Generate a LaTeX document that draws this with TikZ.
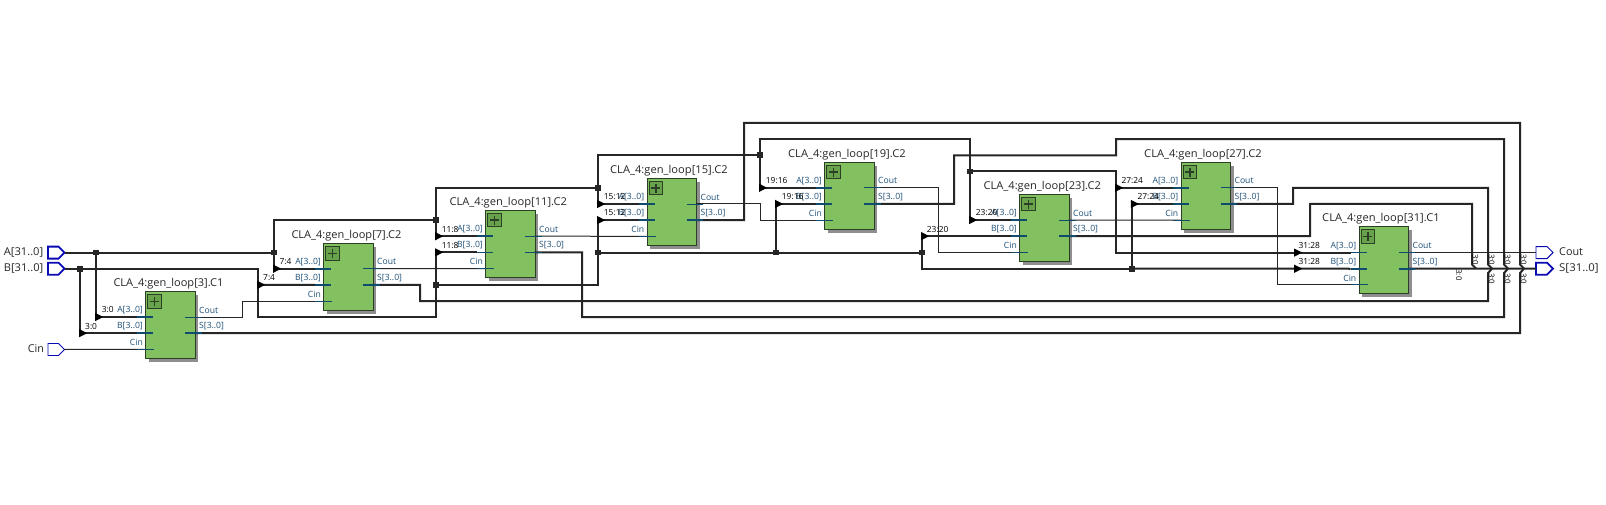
\documentclass[tikz,border=0pt]{standalone}
\usepackage{fontspec}
\setmainfont{Open Sans}
\definecolor{blockgreen}{HTML}{82C060}
\definecolor{plusgreen}{HTML}{68A24A}
\definecolor{blockedge}{HTML}{2A3F26}
\definecolor{shadowgrey}{HTML}{8E8E8E}
\definecolor{wirecol}{HTML}{262626}
\definecolor{stubcol}{HTML}{0F4C6E}
\definecolor{pinblue}{HTML}{0A0AB4}
\definecolor{pintext}{HTML}{1E5078}
\tikzset{
  bus/.style={draw=wirecol,line width=2pt,line join=miter},
  net/.style={draw=wirecol,line width=1pt},
  title/.style={font=\fontsize{10.8}{12}\selectfont,text=black!85,anchor=west,inner sep=0pt},
  pinlab/.style={font=\fontsize{8.6}{10}\selectfont,text=pintext,inner sep=0pt},
  slice/.style={font=\fontsize{8.4}{10}\selectfont,text=black,inner sep=0pt,anchor=west},
  vslice/.style={font=\fontsize{7.8}{9}\selectfont,text=black,inner sep=0pt,rotate=-90},
  toplab/.style={font=\fontsize{10.8}{12}\selectfont,text=black!85,inner sep=0pt},
  dotj/.style={fill=wirecol,draw=none,minimum size=5.6pt,inner sep=0pt,rectangle},
  tip/.style={fill=black,draw=none},
  pinthick/.style={draw=pinblue,line width=1.8pt,fill=white},
  pinthin/.style={draw=pinblue,line width=0.9pt,fill=white},
}
% name, left x, top y, A-row y, title, title offset, title width
\newcommand{\blk}[7]{%
  \fill[shadowgrey] (#2+3.7,#3+3.5) rectangle (#2+53,#3+70.7);
  \node[draw=blockedge,fill=blockgreen,line width=0.9pt,minimum width=49.3pt,minimum height=67pt,inner sep=0pt,anchor=north west] (#1) at (#2,#3) {};
  \node[draw=blockedge,fill=plusgreen,line width=0.8pt,minimum size=13.2pt,inner sep=0pt,anchor=north west] (#1plus) at (#2+2,#3+3) {};
  \draw[blockedge,line width=1.6pt] (#1plus.center) ++(-4.7,0) -- ++(9.4,0) (#1plus.center) ++(0,-4.7) -- ++(0,9.4);
  \coordinate (#1A) at (#2,#4);
  \coordinate (#1B) at (#2,#4+16.15);
  \coordinate (#1C) at (#2,#4+32.3);
  \coordinate (#1O) at (#2+49.3,#4);
  \coordinate (#1S) at (#2+49.3,#4+16.15);
  \node[title] (#1title) at (#2+#6,#3-7.6) {\resizebox{#7pt}{\height}{#5}};
  \node[pinlab,anchor=east] (#1la) at (#2-2.3,#4-7) {A[3..0]};
  \node[pinlab,anchor=east] (#1lb) at (#2-2.3,#4+9) {B[3..0]};
  \node[pinlab,anchor=east] (#1lc) at (#2-2.3,#4+25.5) {Cin};
  \node[pinlab,anchor=west] (#1lo) at (#2+53.7,#4-7) {Cout};
  \node[pinlab,anchor=west] (#1ls) at (#2+53.7,#4+9) {S[3..0]};
}
\newcommand{\stubs}[1]{%
  \draw[stubcol,line width=1.6pt] ([xshift=-8pt]#1A) -- ([xshift=8pt]#1A) ([xshift=-8pt]#1B) -- ([xshift=8pt]#1B) ([xshift=-9.5pt]#1S) -- ([xshift=7pt]#1S);
  \draw[stubcol,line width=0.9pt] ([xshift=-9.5pt]#1O) -- ([xshift=7pt]#1O) ([xshift=-8pt]#1C) -- ([xshift=9pt]#1C);
}
\newcommand{\arrowat}[1]{\fill[tip] (#1) ++(-0.8,-4.1) -- ++(8,4.1) -- ++(-8,4.1) -- cycle;}
\begin{document}
\begin{tikzpicture}[x=1pt,y=-1pt]
\useasboundingbox (0,0) rectangle (1606,505);
\fill[white] (0,0) rectangle (1606,505);

% blocks
\blk{b3}{145.3}{291.3}{317}{CLA\_4:gen\_loop[3].C1}{-32}{110}
\blk{b7}{323.3}{243.3}{268.7}{CLA\_4:gen\_loop[7].C2}{-32}{110}
\blk{b11}{485.3}{210.3}{236.2}{CLA\_4:gen\_loop[11].C2}{-36}{117.5}
\blk{b15}{646.7}{178.3}{204}{CLA\_4:gen\_loop[15].C2}{-36.7}{117.5}
\blk{b19}{824.3}{162.3}{187.8}{CLA\_4:gen\_loop[19].C2}{-36.3}{117.5}
\blk{b23}{1019.3}{194.3}{220}{CLA\_4:gen\_loop[23].C2}{-36}{117.5}
\blk{b27}{1180.7}{162.3}{187.8}{CLA\_4:gen\_loop[27].C2}{-36.7}{117.5}
\blk{b31}{1358.7}{226.3}{252.6}{CLA\_4:gen\_loop[31].C1}{-36.7}{117.5}

% pins
\node[toplab,anchor=east] (tA) at (43.5,252.2) {\resizebox{39.5pt}{\height}{A[31..0]}};
\node[toplab,anchor=east] (tB) at (43.5,268.2) {\resizebox{39.5pt}{\height}{B[31..0]}};
\node[toplab,anchor=east] (tC) at (44.3,349) {Cin};
\node[toplab,anchor=west] (tCout) at (1559,252) {Cout};
\node[toplab,anchor=west] (tS) at (1559,268) {\resizebox{39.5pt}{\height}{S[31..0]}};
\coordinate (pA) at (64.5,252.6);
\coordinate (pB) at (64.5,268.7);
\coordinate (pC) at (64.5,349.5);
\coordinate (pCout) at (1536,252.6);
\coordinate (pS) at (1536,268.7);
\draw[pinthick] (pA) ++(-16.5,-6) -- ++(10.5,0) -- ++(6,6) -- ++(-6,6) -- ++(-10.5,0) -- cycle;
\draw[pinthick] (pB) ++(-16.5,-6) -- ++(10.5,0) -- ++(6,6) -- ++(-6,6) -- ++(-10.5,0) -- cycle;
\draw[pinthin] (pC) ++(-16.5,-6) -- ++(10.5,0) -- ++(6,6) -- ++(-6,6) -- ++(-10.5,0) -- cycle;
\draw[pinthin] (pCout) ++(0,-6) -- ++(11,0) -- ++(6,6) -- ++(-6,6) -- ++(-11,0) -- cycle;
\draw[pinthick] (pS) ++(0,-6) -- ++(11,0) -- ++(6,6) -- ++(-6,6) -- ++(-11,0) -- cycle;

% junctions
\node[dotj] (ja0) at (96,252.6) {};
\node[dotj] (jb0) at (80,268.7) {};
\node[dotj] (ja1) at (274,252.6) {};
\node[dotj] (ja2) at (436,220) {};
\node[dotj] (ja3) at (598,187.8) {};
\node[dotj] (ja4) at (760,155.3) {};
\node[dotj] (ja5) at (970,171.5) {};
\node[dotj] (jb2) at (436,284.8) {};
\node[dotj] (jb3) at (598,252.6) {};
\node[dotj] (jb4) at (776,252.6) {};
\node[dotj] (jb5) at (922,252.6) {};
\node[dotj] (jb6) at (1131.7,268.7) {};

% A bus
\path[bus] (pA) -- (ja0.center) -- (ja1.center);
\path[bus] (ja0.center) |- ([xshift=-8pt]b3A);
\path[bus] (ja1.center) |- ([xshift=-8pt]b7A);
\path[bus] (ja1.center) |- (ja2.center);
\path[bus] (ja2.center) |- ([xshift=-8pt]b11A);
\path[bus] (ja2.center) |- (ja3.center);
\path[bus] (ja3.center) |- ([xshift=-8pt]b15A);
\path[bus] (ja3.center) |- (ja4.center);
\path[bus] (ja4.center) |- ([xshift=-8pt]b19A);
\path[bus] (ja4.center) |- (970,139.2) -- (ja5.center);
\path[bus] (ja5.center) |- ([xshift=-8pt]b23A);
\path[bus] (ja5.center) -| (1116,252.6) -- ([xshift=-8pt]b31A);
\path[bus] (1116,187.8) -- ([xshift=-8pt]b27A);

% B bus
\path[bus] (pB) -- (jb0.center) -| (258,317) -| (jb2.center);
\path[bus] (jb0.center) |- ([xshift=-8pt]b3B);
\path[bus] (258,284.85) -- ([xshift=-8pt]b7B);
\path[bus] (jb2.center) |- ([xshift=-8pt]b11B);
\path[bus] (jb2.center) -| (jb3.center);
\path[bus] (jb3.center) |- ([xshift=-8pt]b15B);
\path[bus] (jb3.center) -- (jb4.center) -- (jb5.center);
\path[bus] (jb4.center) |- ([xshift=-8pt]b19B);
\path[bus] (jb5.center) |- ([xshift=-8pt]b23B);
\path[bus] (jb5.center) |- (jb6.center);
\path[bus] (jb6.center) |- ([xshift=-8pt]b27B);
\path[bus] (jb6.center) -- ([xshift=-8pt]b31B);

% S outputs
\path[bus] (b3S) -| (1520,273) -- (1524,268.7);
\path[bus] (b7S) -| (420,301) -| (1488,273) -- (1492,268.7);
\path[bus] (b11S) -| (582,317) -| (1504,273) -- (1508,268.7);
\path[bus] (b15S) -| (744,123) -| (1520,264.4) -- (1524,268.7);
\path[bus] (b19S) -| (954,155.3) -| (1116,139.2) -| (1504,264.4) -- (1508,268.7);
\path[bus] (b23S) -| (1310,204) -| (1472,264.4) -- (1476,268.7);
\path[bus] (b27S) -| (1293,187.8) -| (1488,264.4) -- (1492,268.7);
\path[bus] (b31S) -- (pS);

% carries
\path[net] (pC) -- (b3C);
\path[net] (b3O) -| (242.3,310) |- (b7C);
\path[net] (b7O) -- (b11C);
\path[net] (b11O) -- (b15C);
\path[net] (b15O) -| (760.7,212) |- (b19C);
\path[net] (b19O) -| (938,230) |- (b23C);
\path[net] (b23O) -- (b27C);
\path[net] (b27O) -| (1277.7,230) |- (b31C);
\path[net] (b31O) -- (pCout);

% stubs
\stubs{b3}\stubs{b7}\stubs{b11}\stubs{b15}\stubs{b19}\stubs{b23}\stubs{b27}\stubs{b31}

% bus-ripper tips
\arrowat{96,317}\arrowat{80,333.15}
\arrowat{274,268.7}\arrowat{258,284.85}
\arrowat{436,236.2}\arrowat{436,252.35}
\arrowat{598,204}\arrowat{598,220.15}
\arrowat{760,187.8}\arrowat{776,203.95}
\arrowat{970,220}\arrowat{922,236.15}
\arrowat{1116,187.8}\arrowat{1131.7,203.95}
\arrowat{1295,252.6}\arrowat{1295,268.75}

% slice labels
\node[slice] (s1) at (101.7,309.3) {3:0};
\node[slice] (s2) at (85,327) {3:0};
\node[slice] (s3) at (279.3,261.7) {7:4};
\node[slice] (s4) at (263,278) {7:4};
\node[slice] (s5) at (441.7,230) {11:8};
\node[slice] (s6) at (441.7,245.7) {11:8};
\node[slice] (s7) at (603.7,197) {15:12};
\node[slice] (s8) at (603.7,213) {15:12};
\node[slice] (s9) at (765.7,181) {19:16};
\node[slice] (s10) at (781.7,197) {19:16};
\node[slice] (s11) at (975.7,213) {23:20};
\node[slice] (s12) at (926.7,230) {23:20};
\node[slice] (s13) at (1121.3,181) {27:24};
\node[slice] (s14) at (1137.3,197) {27:24};
\node[slice] (s15) at (1298.3,246) {31:28};
\node[slice] (s16) at (1298.3,262) {31:28};
\node[vslice] (v1) at (1459,275) {3:0};
\node[vslice] (v2) at (1475.3,259.5) {3:0};
\node[vslice] (v3) at (1491.7,259.5) {3:0};
\node[vslice] (v4) at (1507.7,259.5) {3:0};
\node[vslice] (v5) at (1523.7,259.5) {3:0};
\node[vslice] (v6) at (1491.7,278.5) {3:0};
\node[vslice] (v7) at (1507.7,278.5) {3:0};
\node[vslice] (v8) at (1523.7,278.5) {3:0};
\end{tikzpicture}
\end{document}
